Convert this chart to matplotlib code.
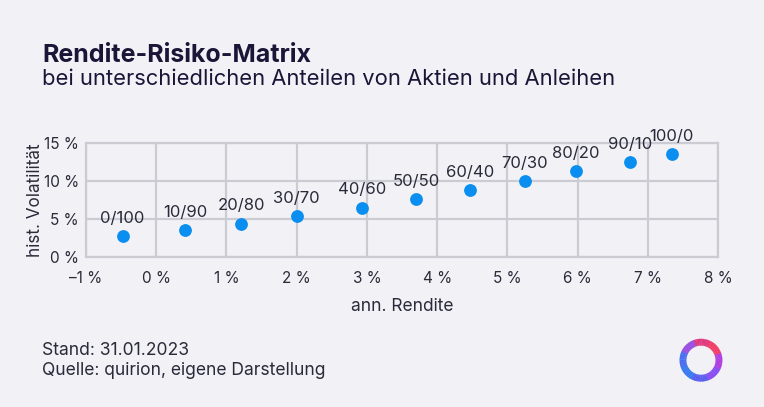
import numpy as np
import matplotlib.pyplot as plt
from matplotlib.patches import Wedge

# data (ann. Rendite %, hist. Volatilitaet %)
labels = ['0/100', '10/90', '20/80', '30/70', '40/60', '50/50',
          '60/40', '70/30', '80/20', '90/10', '100/0']
rendite = [-0.48, 0.41, 1.21, 2.00, 2.93, 3.70, 4.47, 5.25, 5.98, 6.75, 7.34]
volatil = [2.7, 3.5, 4.4, 5.4, 6.5, 7.6, 8.8, 10.0, 11.3, 12.5, 13.5]
xticks = [-1, 0, 1, 2, 3, 4, 5, 6, 7, 8]
yticks = [0, 5, 10, 15]

BG = '#f2f2f6'
DARK = '#1b1538'
TXT = '#2a2a3a'
GRID = '#cbcbd4'
DOT = '#0a8ef0'

plt.rcParams['font.family'] = ['Inter', 'DejaVu Sans']

fig = plt.figure(figsize=(7.64, 4.07), dpi=100, facecolor=BG)
ax = fig.add_axes([0.1126, 0.3686, 0.8272, 0.28])
ax.set_facecolor(BG)

ax.scatter(rendite, volatil, s=85, color=DOT, zorder=3, linewidths=0)
for lb, x, y in zip(labels, rendite, volatil):
    ax.annotate(lb, (x, y), xytext=(0, 7.5), textcoords='offset points',
                ha='center', va='bottom', fontsize=12, color=TXT)

ax.set_xlim(-1, 8)
ax.set_ylim(0, 15)
ax.set_xticks(xticks)
ax.set_yticks(yticks)
ax.set_xticklabels([('–%d %%' % -t) if t < 0 else '%d %%' % t for t in xticks])
ax.set_yticklabels(['%d %%' % t for t in yticks])
ax.tick_params(length=0, labelsize=11, colors=TXT, pad=10)
ax.tick_params(axis='y', pad=5)
ax.grid(True, color=GRID, linewidth=1.6)
ax.set_axisbelow(True)
for s in ax.spines.values():
    s.set_color(GRID)
    s.set_linewidth(1.6)
ax.set_xlabel('ann. Rendite', fontsize=12.5, color=TXT, labelpad=9)
ax.set_ylabel('hist. Volatilität', fontsize=12.3, color=TXT, labelpad=0)

fig.text(0.055, 0.847, 'Rendite-Risiko-Matrix', fontsize=18, fontweight='bold', color=DARK)
fig.text(0.055, 0.791, 'bei unterschiedlichen Anteilen von Aktien und Anleihen',
         fontsize=15.8, color=DARK)
fig.text(0.055, 0.127, 'Stand: 31.01.2023', fontsize=12.6, color=TXT)
fig.text(0.055, 0.078, 'Quelle: quirion, eigene Darstellung', fontsize=12.6, color=TXT)

# logo: gradient ring
lax = fig.add_axes([0.87, 0.03, 0.095, 0.17])
lax.set_xlim(-1, 1)
lax.set_ylim(-1, 1)
lax.set_aspect('equal')
lax.axis('off')
cols = ['#3a7cf0', '#5a5ff0', '#8a4ff0', '#b040e0', '#f0406a', '#e03a80', '#9a50e0', '#4a70f0']
n = 48
for i in range(n):
    a0 = 360.0 * i / n
    c = cols[int(i * len(cols) / n)]
    lax.add_patch(Wedge((0, 0), 0.62, a0 + 200, a0 + 200 + 360.0 / n + 1,
                        width=0.2, color=c, linewidth=0))

fig.savefig('out.png', dpi=100, facecolor=BG)
